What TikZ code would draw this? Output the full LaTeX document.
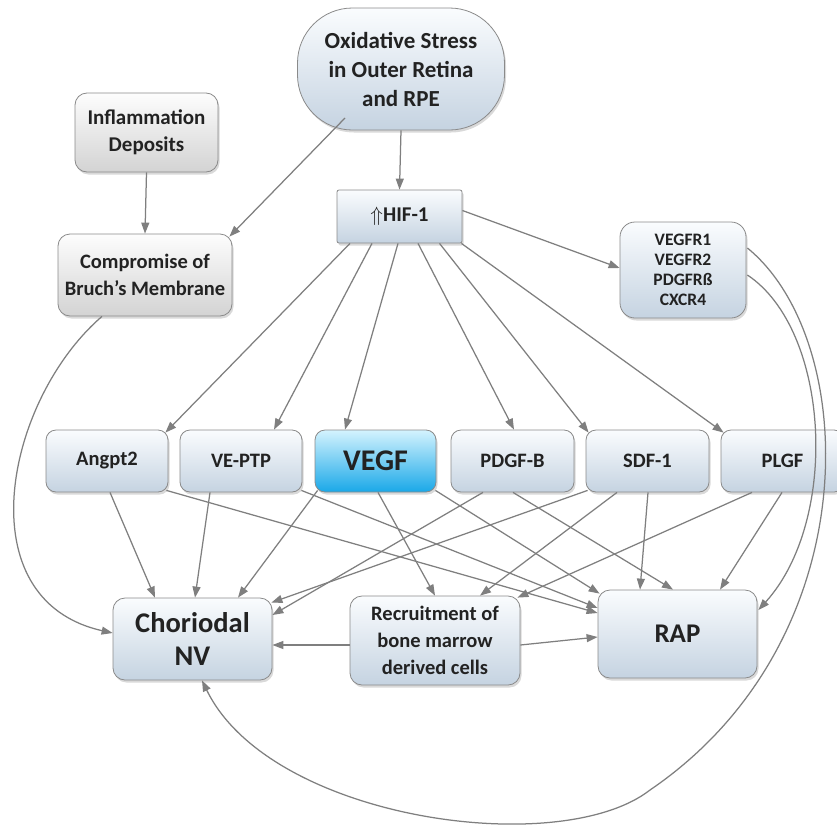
\documentclass[tikz,border=0pt]{standalone}
\usepackage{fontspec}
\setmainfont{Carlito}
\usetikzlibrary{arrows.meta,shadows}
\definecolor{edgec}{HTML}{7F7F7F}
\definecolor{bordc}{HTML}{8A8A8A}
\definecolor{bluetop}{HTML}{FAFCFE}
\definecolor{bluebot}{HTML}{C5D3E1}
\definecolor{greytop}{HTML}{FDFDFD}
\definecolor{greybot}{HTML}{D3D3D3}
\definecolor{vegftop}{HTML}{D4F3FE}
\definecolor{vegfbot}{HTML}{1AA8E8}
\definecolor{txt}{HTML}{222222}
\newcommand\fsz[2]{\fontsize{#1}{#2}\selectfont}
\begin{document}
\begin{tikzpicture}[x=1pt,y=-1pt,
  box/.style={draw=bordc, line width=0.8pt, rounded corners=10pt,
    top color=bluetop, bottom color=bluebot,
    drop shadow={opacity=0.3, shadow xshift=1.5pt, shadow yshift=-2.5pt},
    align=center, text=txt, inner sep=0pt},
  greybox/.style={box, top color=greytop, bottom color=greybot},
  conn/.style={draw=edgec, line width=1.25pt, -{Triangle[length=11pt,width=8pt]}}
]
\useasboundingbox (0,0) rectangle (837,827);

% nodes
\node[box, rounded corners=55pt, minimum width=207pt, minimum height=122pt,
  font=\bfseries\fsz{23}{29}] (ox) at (401,69)
  {Oxidative Stress\\in Outer Retina\\and RPE};
\node[greybox, rounded corners=12pt, minimum width=143pt, minimum height=79pt,
  font=\bfseries\fsz{21}{27}] (infl) at (146.5,132.5)
  {Inflammation\\Deposits};
\node[greybox, rounded corners=12pt, minimum width=174pt, minimum height=82pt,
  font=\bfseries\fsz{20.5}{27}] (comp) at (145,275)
  {Compromise of\\Bruch's Membrane};
\node[box, rounded corners=2pt, minimum width=125pt, minimum height=53pt,
  font=\bfseries\fsz{21}{26}] (hif) at (399.5,216.5)
  {$\Uparrow$HIF-1};
\node[box, rounded corners=15pt, minimum width=126pt, minimum height=96pt,
  font=\bfseries\fsz{17.5}{20}] (vegfr) at (683,270)
  {VEGFR1\\VEGFR2\\PDGFR\ss\\CXCR4};

\node[box, minimum width=122pt, minimum height=62pt, font=\bfseries\fsz{20.5}{24}] (angpt) at (107,461) {Angpt2};
\node[box, minimum width=122pt, minimum height=62pt, font=\bfseries\fsz{20.5}{24}] (veptp) at (241,461) {VE-PTP};
\node[box, top color=vegftop, bottom color=vegfbot, minimum width=121pt, minimum height=62pt,
  font=\bfseries\fsz{30}{34}] (vegf) at (375.5,461) {VEGF};
\node[box, minimum width=123pt, minimum height=62pt, font=\bfseries\fsz{20.5}{24}] (pdgfb) at (512.5,461) {PDGF-B};
\node[box, minimum width=123pt, minimum height=62pt, font=\bfseries\fsz{20.5}{24}] (sdf) at (647.5,461) {SDF-1};
\node[box, minimum width=123pt, minimum height=62pt, font=\bfseries\fsz{20.5}{24}] (plgf) at (782.5,461) {PLGF};

\node[box, rounded corners=12pt, minimum width=159pt, minimum height=82pt,
  font=\bfseries\fsz{28.5}{33}] (chor) at (192.5,639)
  {Choriodal\\NV};
\node[box, rounded corners=12pt, minimum width=170pt, minimum height=89pt,
  font=\bfseries\fsz{20.5}{27}] (recr) at (435,640.5)
  {Recruitment of\\bone marrow\\derived cells};
\node[box, rounded corners=12pt, minimum width=159pt, minimum height=88pt,
  font=\bfseries\fsz{27}{32}] (rap) at (677.5,634)
  {RAP};

% upper connectors
\draw[conn] (ox.south) -- (hif.north);
\draw[conn] ([xshift=-56pt,yshift=-49pt]ox.center) -- ([xshift=-3pt,yshift=-3pt]comp.north east);
\draw[conn] (infl.south) -- (comp.north);
\draw[conn] ([yshift=6pt]hif.east) -- ([yshift=2pt]vegfr.west);
\draw[conn] ([xshift=-49.5pt]hif.south) -- ([xshift=-3pt,yshift=-3pt]angpt.north east);
\draw[conn] ([xshift=-27.5pt]hif.south) -- ([xshift=33pt]veptp.north);
\draw[conn] ([xshift=-1.5pt]hif.south) -- ([xshift=-30.5pt]vegf.north);
\draw[conn] ([xshift=18.5pt]hif.south) -- ([xshift=1.5pt]pdgfb.north);
\draw[conn] ([xshift=40pt]hif.south) -- ([xshift=3pt,yshift=-3pt]sdf.north west);
\draw[conn] ([xshift=-1pt]hif.south east) -- ([xshift=3pt,yshift=-3pt]plgf.north west);

% lower connectors
\draw[conn] ([xshift=3pt]angpt.south) -- ([xshift=-37.5pt]chor.north);
\draw[conn] ([xshift=-2pt,yshift=2pt]angpt.south east) -- ([yshift=21pt]rap.west);
\draw[conn] ([xshift=-31pt]veptp.south) -- ([xshift=2.5pt]chor.north);
\draw[conn] ([xshift=-1pt,yshift=2pt]veptp.south east) -- ([yshift=26pt]rap.west);
\draw[conn] ([xshift=3pt,yshift=2pt]vegf.south west) -- ([xshift=45.5pt]chor.north);
\draw[conn] ([xshift=2.5pt]vegf.south) -- (recr.north);
\draw[conn] ([xshift=-1pt,yshift=2pt]vegf.south east) -- ([xshift=2pt,yshift=-4pt]rap.north west);
\draw[conn] ([xshift=-29.5pt]pdgfb.south) -- ([yshift=24pt]chor.east);
\draw[conn] ([xshift=0.5pt]pdgfb.south) -- ([xshift=-4.5pt]rap.north);
\draw[conn] ([xshift=2pt,yshift=2pt]sdf.south west) -- ([xshift=-1pt,yshift=-5pt]chor.north east);
\draw[conn] ([xshift=-30.5pt]sdf.south) -- ([xshift=45pt]recr.north);
\draw[conn] ([xshift=0.5pt]sdf.south) -- ([xshift=-37.5pt]rap.north);
\draw[conn] ([xshift=-30.5pt]plgf.south) -- ([xshift=-3pt,yshift=-2pt]recr.north east);
\draw[conn] ([xshift=-0.5pt]plgf.south) -- ([xshift=42.5pt]rap.north);
\draw[conn] ([yshift=-4.5pt]recr.west) -- ([yshift=-6pt]chor.east);
\draw[conn] ([yshift=-4.5pt]recr.east) -- ([yshift=-3pt]rap.west);

% curved connectors
\draw[conn] ([xshift=-43pt]comp.south) .. controls (5,400) and (-35,600) .. ([yshift=6pt]chor.west);
\draw[conn] ([xshift=1pt,yshift=-5pt]vegfr.east) .. controls (830,330) and (840,520) .. ([xshift=1pt,yshift=24pt]rap.east);
\draw[conn] ([xshift=1pt,yshift=22pt]vegfr.east) .. controls (860,340) and (870,640) .. (650,790)
  .. controls (560,860) and (270,820) .. ([xshift=9.5pt]chor.south);
\end{tikzpicture}
\end{document}
